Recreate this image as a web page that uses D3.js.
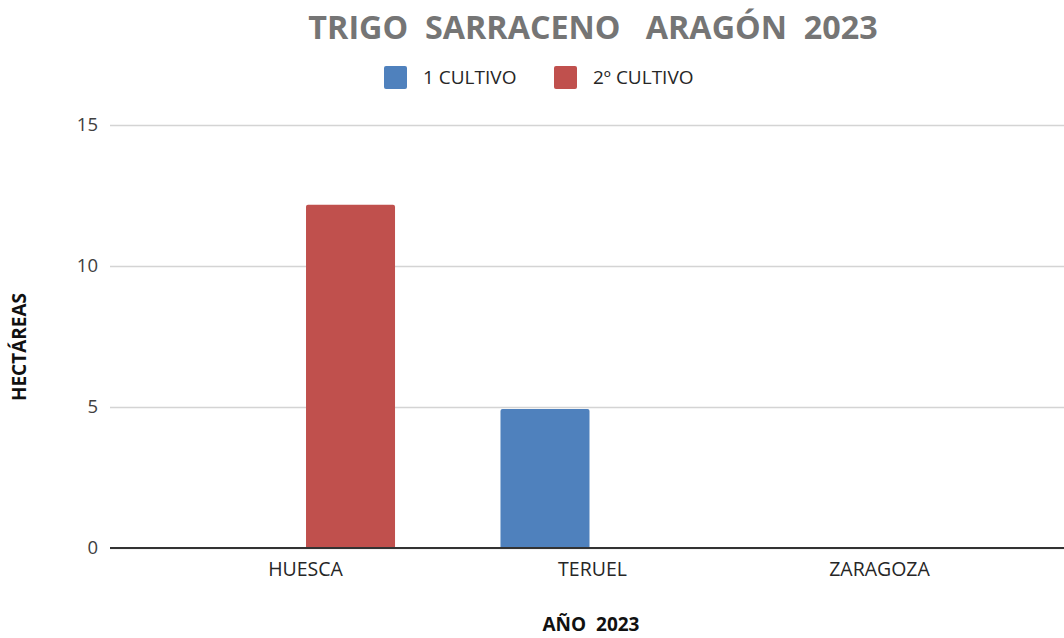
<!DOCTYPE html>
<html>
<head>
<meta charset="utf-8">
<script src="https://cdn.jsdelivr.net/npm/d3@7"></script>
<style>
  body { margin: 0; background: #fff; }
  text { font-family: "Open Sans", sans-serif; }
</style>
</head>
<body>
<div id="chart"></div>
<script>
(function() {
  const categories = ['HUESCA', 'TERUEL', 'ZARAGOZA'];
  const seriesNames = ['1 CULTIVO', '2º CULTIVO'];
  const cultivo1 = [0, 4.93, 0];
  const cultivo2 = [12.17, 0, 0];
  const yTicks = [0, 5, 10, 15];

  const colors = ['#4f81bd', '#c0504d'];
  const width = 1064, height = 638;
  const plotLeft = 110, plotRight = 1064, plotTop = 125, plotBottom = 548;

  const data = categories.map((c, i) => ({cat: c, values: [cultivo1[i], cultivo2[i]]}));

  const svg = d3.select('#chart').append('svg')
    .attr('width', width)
    .attr('height', height);

  const x0 = d3.scaleBand()
    .domain(categories)
    .range([217, 962])
    .paddingInner(0.372)
    .paddingOuter(0);

  const x1 = d3.scaleBand()
    .domain(seriesNames)
    .range([0, x0.bandwidth()]);

  // category labels sit slightly apart from the bar groups in the original
  const xLabel = d3.scalePoint()
    .domain(categories)
    .range([305, 879]);

  const y = d3.scaleLinear()
    .domain([0, 15])
    .range([plotBottom, plotTop]);

  // gridlines + y labels
  svg.append('g')
    .attr('transform', `translate(${plotLeft},0)`)
    .call(d3.axisLeft(y).tickValues(yTicks).tickSize(-(plotRight - plotLeft)).tickPadding(12))
    .call(g => g.select('.domain').remove())
    .call(g => g.selectAll('.tick line').attr('stroke', '#d4d4d4').attr('stroke-width', 1.5))
    .call(g => g.selectAll('.tick text').attr('fill', '#404040').style('font-size', '18.5px'));

  // bars
  const groups = svg.selectAll('.grp')
    .data(data)
    .enter().append('g')
      .attr('class', 'grp')
      .attr('transform', d => `translate(${x0(d.cat)},0)`);

  groups.selectAll('path')
    .data(d => d.values.map((v, i) => ({key: seriesNames[i], v: v, i: i})).filter(e => e.v > 0))
    .enter().append('path')
      .attr('fill', d => colors[d.i])
      .attr('d', d => {
        const bx = x1(d.key), bw = x1.bandwidth(), top = y(d.v), r = 2;
        return `M${bx},${plotBottom}V${top + r}Q${bx},${top} ${bx + r},${top}H${bx + bw - r}Q${bx + bw},${top} ${bx + bw},${top + r}V${plotBottom}Z`;
      });

  // baseline
  svg.append('line')
    .attr('x1', plotLeft).attr('x2', plotRight)
    .attr('y1', plotBottom).attr('y2', plotBottom)
    .attr('stroke', '#333').attr('stroke-width', 2);

  // x labels
  svg.append('g')
    .attr('transform', `translate(0,${plotBottom})`)
    .call(d3.axisBottom(xLabel).tickSize(0).tickPadding(14))
    .call(g => g.select('.domain').remove())
    .call(g => g.selectAll('.tick text').attr('fill', '#262626').style('font-size', '19.5px'));

  // title
  svg.append('text')
    .attr('x', 593).attr('y', 39)
    .attr('text-anchor', 'middle')
    .attr('fill', '#757575')
    .style('font-size', '32.3px').style('font-weight', 'bold')
    .attr('xml:space', 'preserve')
    .text('TRIGO  SARRACENO   ARAGÓN  2023');

  // legend
  const legendX = [384, 554];
  const legend = svg.selectAll('.leg')
    .data(seriesNames)
    .enter().append('g')
      .attr('transform', (d, i) => `translate(${legendX[i]},66)`);
  legend.append('rect')
    .attr('width', 23).attr('height', 23).attr('rx', 2)
    .attr('fill', (d, i) => colors[i]);
  legend.append('text')
    .attr('x', 39).attr('y', 18)
    .attr('fill', '#262626')
    .style('font-size', '19px')
    .text(d => d);

  // axis titles
  svg.append('text')
    .attr('transform', 'translate(26,347) rotate(-90)')
    .attr('text-anchor', 'middle')
    .attr('fill', '#111')
    .style('font-size', '19px').style('font-weight', 'bold')
    .text('HECTÁREAS');

  svg.append('text')
    .attr('x', 591).attr('y', 631)
    .attr('text-anchor', 'middle')
    .attr('fill', '#111')
    .style('font-size', '19px').style('font-weight', 'bold')
    .attr('xml:space', 'preserve')
    .text('AÑO  2023');
})();
</script>
</body>
</html>
